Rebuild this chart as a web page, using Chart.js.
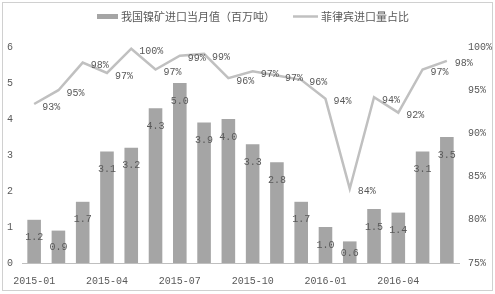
<!DOCTYPE html>
<html>
<head>
<meta charset="utf-8">
<script src="https://cdn.jsdelivr.net/npm/chart.js@4"></script>
<style>
  html, body { margin: 0; padding: 0; background: #fff; }
  #wrap { width: 495px; height: 294px; position: relative; }
</style>
</head>
<body>
<div id="wrap"><canvas id="myChart" width="495" height="294"></canvas></div>
<script>
// data
const months = ['2015-01', '2015-02', '2015-03', '2015-04', '2015-05', '2015-06',
                '2015-07', '2015-08', '2015-09', '2015-10', '2015-11', '2015-12',
                '2016-01', '2016-02', '2016-03', '2016-04', '2016-05', '2016-06'];
const importVolume = [1.2, 0.9, 1.7, 3.1, 3.2, 4.3, 5.0, 3.9, 4.0, 3.3, 2.8, 1.7, 1.0, 0.6, 1.5, 1.4, 3.1, 3.5];
const philippineShare = [93.4, 95.0, 98.2, 97.0, 99.8, 97.4, 99.0, 99.2, 96.4, 97.2, 96.7, 96.2, 94.0, 83.6, 94.2, 92.4, 97.4, 98.4];
const leftTicks = [0, 1, 2, 3, 4, 5, 6];
const rightTicks = [75, 80, 85, 90, 95, 100];

const barName = '我国镍矿进口当月值（百万吨）';
const lineName = '菲律宾进口量占比';

const textColor = '#595959';
const numFont = { family: 'Liberation Mono', size: 10 };
const cjkFont = '11px "Noto Sans CJK SC"';

// frame + legend + value labels
const extras = {
    id: 'extras',
    beforeDraw(chart) {
        const c = chart.ctx;
        c.save();
        c.fillStyle = '#fff';
        c.fillRect(0, 0, chart.width, chart.height);
        c.strokeStyle = '#d0d0d0';
        c.lineWidth = 1;
        c.strokeRect(2.5, 2.5, 490, 288);
        c.restore();
    },
    afterDraw(chart) {
        const c = chart.ctx;
        c.save();
        // legend
        c.font = cjkFont;
        c.textBaseline = 'middle';
        c.textAlign = 'left';
        c.fillStyle = '#a5a5a5';
        c.fillRect(97, 14, 21, 5);
        c.fillStyle = textColor;
        c.fillText(barName, 121, 16.5);
        c.strokeStyle = '#c0c0c0';
        c.lineWidth = 2.5;
        c.beginPath();
        c.moveTo(293, 16.5);
        c.lineTo(318, 16.5);
        c.stroke();
        c.fillText(lineName, 321, 16.5);

        c.font = numFont.size + 'px ' + numFont.family;
        // bar labels
        const bars = chart.getDatasetMeta(0).data;
        c.textAlign = 'center';
        bars.forEach((b, i) => {
            const y = Math.min(b.y + 18, (b.y + b.base) / 2 + 1);
            c.fillText(importVolume[i].toFixed(1), b.x, y);
        });
        // line labels
        const pts = chart.getDatasetMeta(1).data;
        c.textAlign = 'left';
        pts.forEach((p, i) => {
            c.fillText(Math.round(philippineShare[i]) + '%', p.x + 8, p.y + 3);
        });
        c.restore();
    }
};

let ctx = document.getElementById('myChart').getContext('2d');

let nickelChart = new Chart(ctx, {
    type: 'bar',
    data: {
        labels: months,
        datasets: [{
            type: 'bar',
            label: barName,
            data: importVolume,
            backgroundColor: '#a5a5a5',
            barPercentage: 0.56,
            categoryPercentage: 1,
            yAxisID: 'y',
            order: 2
        }, {
            type: 'line',
            label: lineName,
            data: philippineShare,
            borderColor: '#c0c0c0',
            borderWidth: 2.5,
            pointRadius: 0,
            tension: 0,
            fill: false,
            yAxisID: 'y1',
            order: 1
        }]
    },
    options: {
        responsive: false,
        animation: false,
        devicePixelRatio: 1,
        layout: { padding: { top: 47, bottom: 0, left: 0, right: 0 } },
        plugins: {
            legend: { display: false },
            tooltip: { enabled: false }
        },
        scales: {
            x: {
                grid: { display: false, drawTicks: false },
                border: { display: true, color: '#bfbfbf', width: 1 },
                ticks: {
                    autoSkip: false,
                    maxRotation: 0,
                    padding: 12,
                    color: textColor,
                    font: numFont,
                    callback: function (v, i) { return i % 3 === 0 ? months[i] : ''; }
                },
                afterFit: function (s) { s.height = 31; }
            },
            y: {
                position: 'left',
                min: 0,
                max: 6,
                grid: { display: false, drawTicks: false },
                border: { display: false },
                afterBuildTicks: function (s) { s.ticks = leftTicks.map(v => ({ value: v })); },
                ticks: { padding: 9, color: textColor, font: numFont },
                afterFit: function (s) { s.width = 22; }
            },
            y1: {
                position: 'right',
                min: 75,
                max: 100,
                grid: { display: false, drawTicks: false },
                border: { display: false },
                afterBuildTicks: function (s) { s.ticks = rightTicks.map(v => ({ value: v })); },
                ticks: {
                    padding: 9,
                    color: textColor,
                    font: numFont,
                    callback: function (v) { return v + '%'; }
                },
                afterFit: function (s) { s.width = 36; }
            }
        }
    },
    plugins: [extras]
});
</script>
</body>
</html>
